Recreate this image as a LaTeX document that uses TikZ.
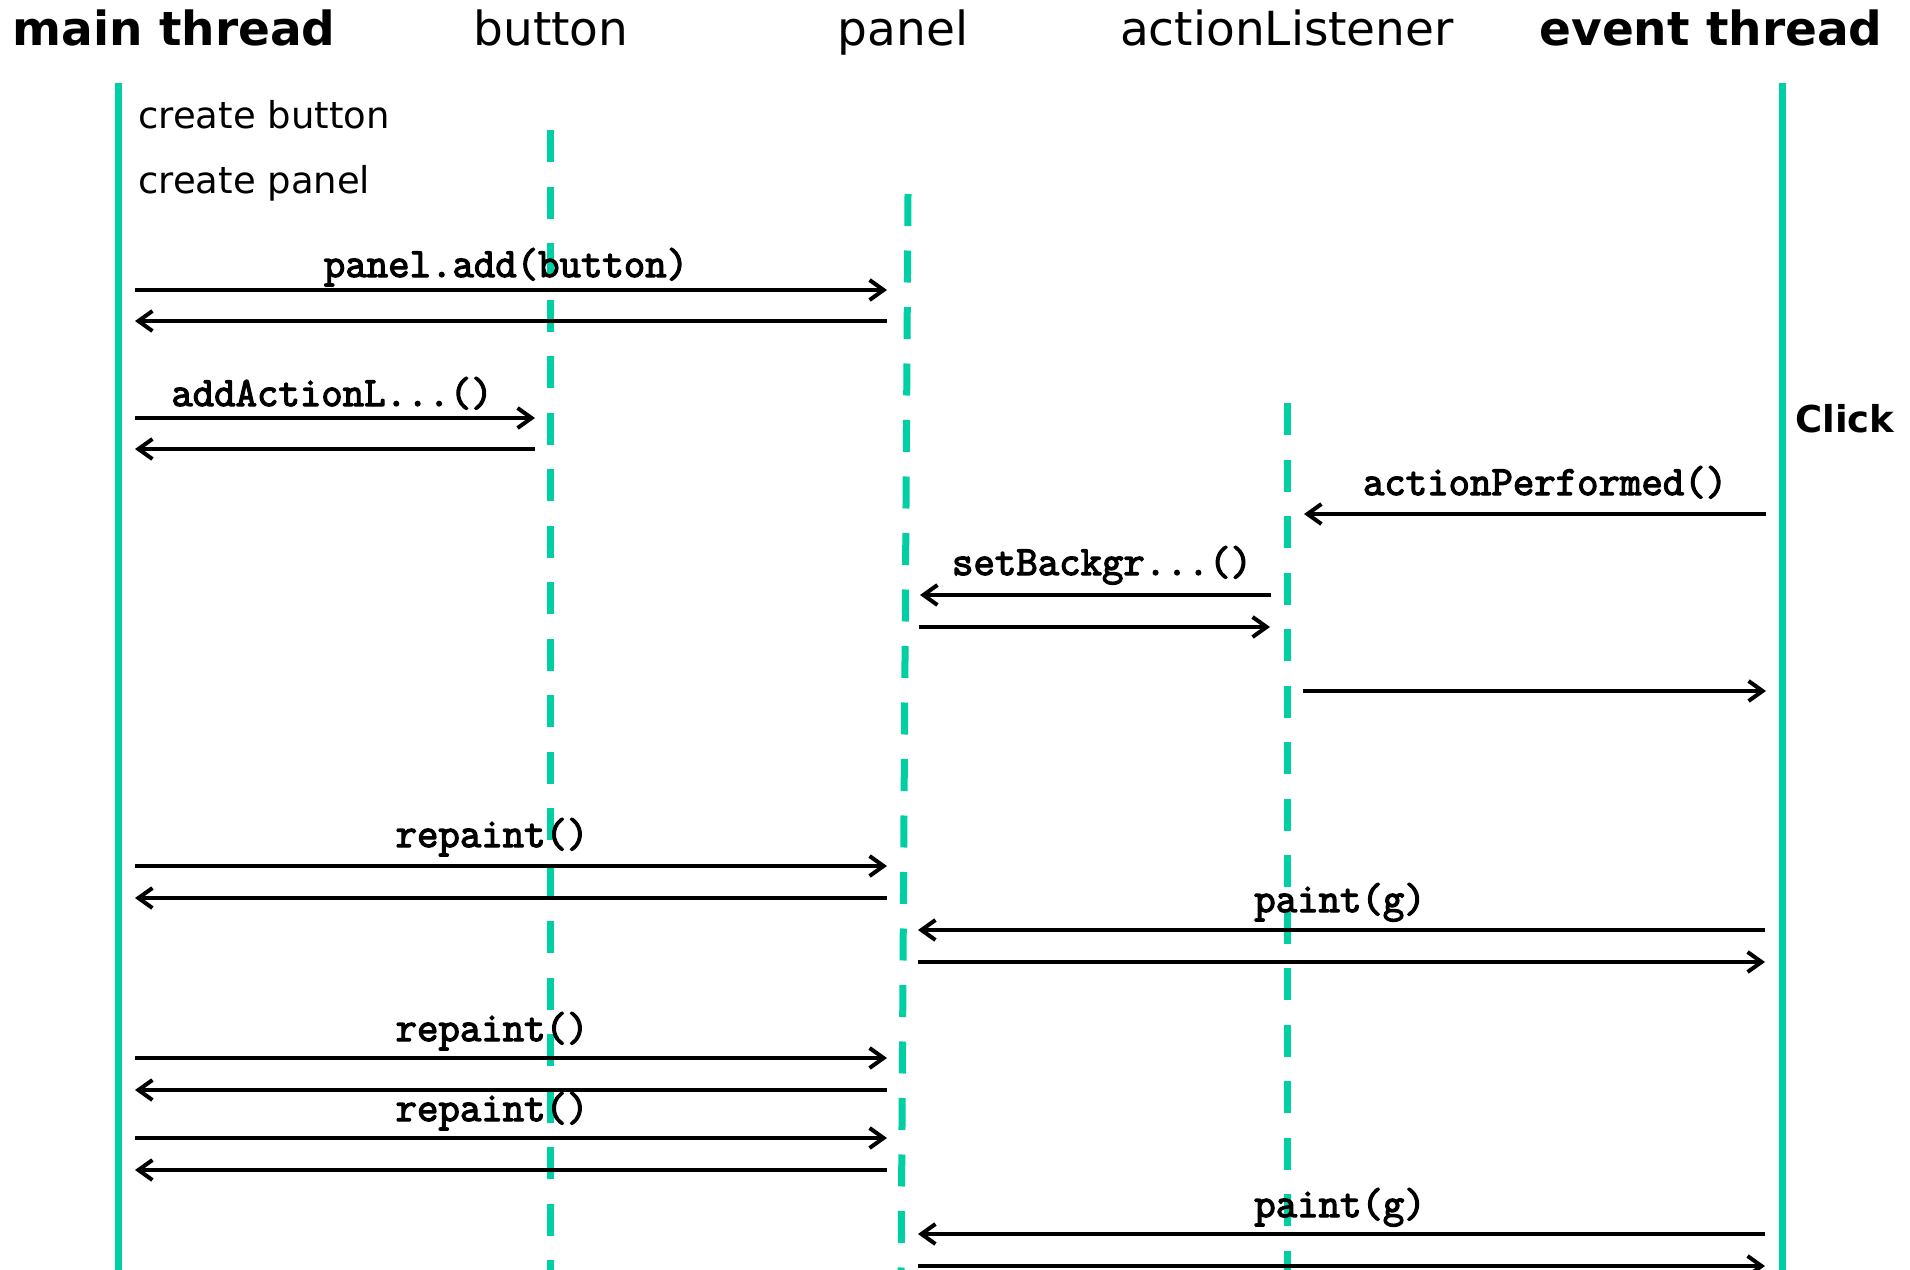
\documentclass[tikz,border=0pt]{standalone}
\usepackage{fontspec}
\setmainfont{DejaVu Sans}
\newfontfamily\codefont{Latin Modern Mono}[FakeBold=3]
\usetikzlibrary{arrows.meta}
\definecolor{life}{RGB}{0,206,163}
\begin{document}
\begin{tikzpicture}[x=0.5pt,y=-0.5pt,
  lifesolid/.style={draw=life,line width=3.5pt},
  lifedash/.style={draw=life,line width=3.5pt,dash pattern=on 16pt off 12.25pt},
  msg/.style={draw=black,line width=2pt,-{Straight Barb[length=7pt,width=10pt]}},
  hdr/.style={font=\fontsize{23.5}{28}\selectfont,anchor=base,inner sep=0pt},
  hdrb/.style={font=\fontsize{23.5}{28}\selectfont\bfseries,anchor=base,inner sep=0pt},
  code/.style={font=\codefont\fontsize{20.8}{24}\selectfont,anchor=base,inner sep=0pt},
  note/.style={font=\fontsize{18.5}{22}\selectfont,anchor=base west,inner sep=0pt}]
\useasboundingbox (0,0) rectangle (1910,1269);
\clip (0,0) rectangle (1910,1269);
\fill[white] (0,0) rectangle (1910,1269);

% headers
\node[hdrb] (hmain) at (174,46) {main thread};
\node[hdr] (hbutton) at (551,46) {button};
\node[hdr] (hpanel) at (903,46) {panel};
\node[hdr] (hlist) at (1287,46) {actionListener};
\node[hdrb] (hevent) at (1711,46) {event thread};

% lifeline ends
\coordinate (mT) at (118,83);   \coordinate (mB) at (118,1280);
\coordinate (bT) at (550,130);  \coordinate (bB) at (550,1280);
\coordinate (pT) at (908,194);  \coordinate (pB) at (901,1280);
\coordinate (lT) at (1287,403); \coordinate (lB) at (1287,1280);
\coordinate (eT) at (1782,83);  \coordinate (eB) at (1782,1280);

\draw[lifesolid] (mT) -- (mB);
\draw[lifedash] (bT) -- (bB);
\draw[lifedash] (pT) -- (pB);
\draw[lifedash] (lT) -- (lB);
\draw[lifesolid] (eT) -- (eB);

% notes
\node[note] (n1) at (138,128) {create button};
\node[note] (n2) at (138,193) {create panel};
\node[font=\fontsize{18.5}{22}\selectfont\bfseries,anchor=base west,inner sep=0pt] (click) at (1795,432) {Click};

% message endpoints
\coordinate (a1s) at (135,290);  \coordinate (a1e) at (887,290);
\coordinate (a2s) at (887,321);  \coordinate (a2e) at (135,321);
\coordinate (a3s) at (135,418);  \coordinate (a3e) at (535,418);
\coordinate (a4s) at (535,449);  \coordinate (a4e) at (135,449);
\coordinate (a5s) at (1766,514); \coordinate (a5e) at (1304,514);
\coordinate (a6s) at (1271,595); \coordinate (a6e) at (920,595);
\coordinate (a7s) at (919,627);  \coordinate (a7e) at (1270,627);
\coordinate (a8s) at (1303,691); \coordinate (a8e) at (1766,691);
\coordinate (a9s) at (135,866);  \coordinate (a9e) at (887,866);
\coordinate (a10s) at (887,898); \coordinate (a10e) at (135,898);
\coordinate (a11s) at (1765,930); \coordinate (a11e) at (918,930);
\coordinate (a12s) at (918,962);  \coordinate (a12e) at (1765,962);
\coordinate (a13s) at (135,1058); \coordinate (a13e) at (887,1058);
\coordinate (a14s) at (887,1090); \coordinate (a14e) at (135,1090);
\coordinate (a15s) at (135,1138); \coordinate (a15e) at (887,1138);
\coordinate (a16s) at (887,1170); \coordinate (a16e) at (135,1170);
\coordinate (a17s) at (1765,1234); \coordinate (a17e) at (918,1234);
\coordinate (a18s) at (918,1266);  \coordinate (a18e) at (1765,1266);

\foreach \i in {1,...,18} {\draw[msg] (a\i s) -- (a\i e);}

% labels
\node[code] (l1) at (506,277) {panel.add(button)};
\node[code] (l3) at (332,406) {addActionL...()};
\node[code] (l5) at (1545,495) {actionPerformed()};
\node[code] (l6) at (1102,575) {setBackgr...()};
\node[code] (l9) at (492,847) {repaint()};
\node[code] (l11) at (1340,912) {paint(g)};
\node[code] (l13) at (492,1041) {repaint()};
\node[code] (l15) at (492,1121) {repaint()};
\node[code] (l17) at (1340,1217) {paint(g)};
\end{tikzpicture}
\end{document}
